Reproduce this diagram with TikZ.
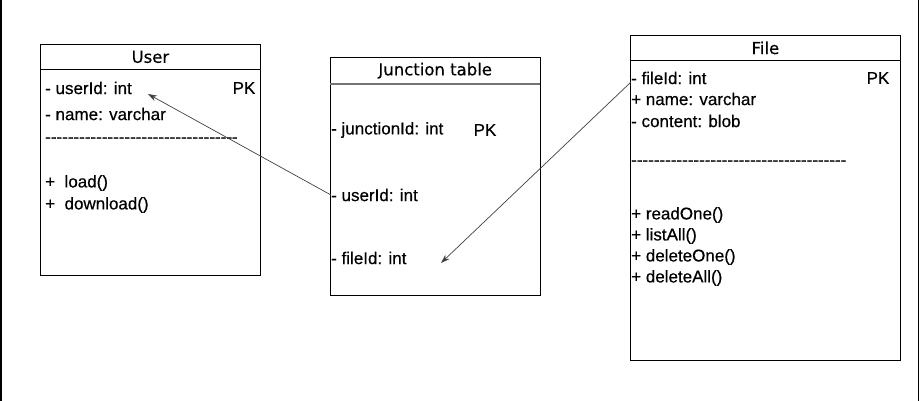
\documentclass[tikz,border=0pt]{standalone}
\usepackage{fontspec}
\usetikzlibrary{arrows.meta,positioning}
\newfontfamily\headfont[FakeBold=0.4]{DejaVu Sans}
\newfontfamily\bodyfont[FakeBold=0.5]{Liberation Sans}
\newcommand\dashrow[1]{\foreach \k in {1,...,#1}{-\kern0pt}}
\tikzset{
  tablebox/.style={draw, line width=0.8pt, anchor=north west, inner sep=0pt},
  headbox/.style={anchor=north west, inner sep=0pt, font=\headfont\fontsize{16.5}{19}\selectfont},
  row/.style={anchor=west, inner sep=0pt, font=\bodyfont\fontsize{17}{20}\selectfont},
  link/.style={draw=black!75, line width=0.7pt, -{Stealth[length=9pt,width=6pt]}}
}
\begin{document}
\begin{tikzpicture}[x=1pt, y=-1pt]
  \useasboundingbox (0,0) rectangle (921,401);
  \draw[line width=1.5pt] (1,0) -- (1,401);
  \draw[line width=1.5pt] (918.5,0) -- (918.5,401);

  % User
  \node[tablebox, minimum width=220pt, minimum height=231pt] (user) at (40,44) {};
  \node[headbox, draw, line width=0.8pt, minimum width=220pt, minimum height=25pt] (userhead) at (user.north west) {User};
  \node[row] (uid) at (45,88) {- userId: int};
  \node[row, anchor=center] (upk) at (244,88) {PK};
  \node[row] (uname) at (45,114) {- name: varchar};
  \node[row] (udash) at (45,140) {\dashrow{34}};
  \node[row] (uload) at (45,183) {+\ \ load()};
  \node[row] (udown) at (45,205) {+\ \ download()};

  % Junction table
  \node[tablebox, minimum width=210pt, minimum height=238pt] (junc) at (330,57) {};
  \node[headbox, minimum width=210pt, minimum height=27pt] (junchead) at (junc.north west) {Junction table};
  \draw[black!55, line width=2pt] (junchead.south west) -- (junchead.south east);
  \node[row] (jid) at (331,130) {- junctionId: int};
  \node[row, anchor=center] (jpk) at (485,130) {PK};
  \node[row] (juser) at (331,195) {- userId: int};
  \node[row] (jfile) at (331,258) {- fileId: int};

  % File
  \node[tablebox, minimum width=270pt, minimum height=325pt] (file) at (630,35) {};
  \node[headbox, draw, line width=0.8pt, minimum width=270pt, minimum height=25pt] (filehead) at (file.north west) {File};
  \node[row] (fid) at (631,78) {- fileId: int};
  \node[row, anchor=center] (fpk) at (878,78) {PK};
  \node[row] (fname) at (631,99) {+ name: varchar};
  \node[row] (fcont) at (631,121) {- content: blob};
  \node[row] (fdash) at (631,163) {\dashrow{38}};
  \node[row] (fread) at (631,215) {+ readOne()};
  \node[row] (flist) at (631,236) {+ listAll()};
  \node[row] (fdone) at (631,257) {+ deleteOne()};
  \node[row] (fdall) at (631,278) {+ deleteAll()};

  \coordinate (utip) at (148,94);
  \coordinate (jtip) at (441,263);
  \draw[link] (juser.west) -- (utip);
  \draw[link] ([yshift=-4pt]fid.west) -- (jtip);
\end{tikzpicture}
\end{document}
